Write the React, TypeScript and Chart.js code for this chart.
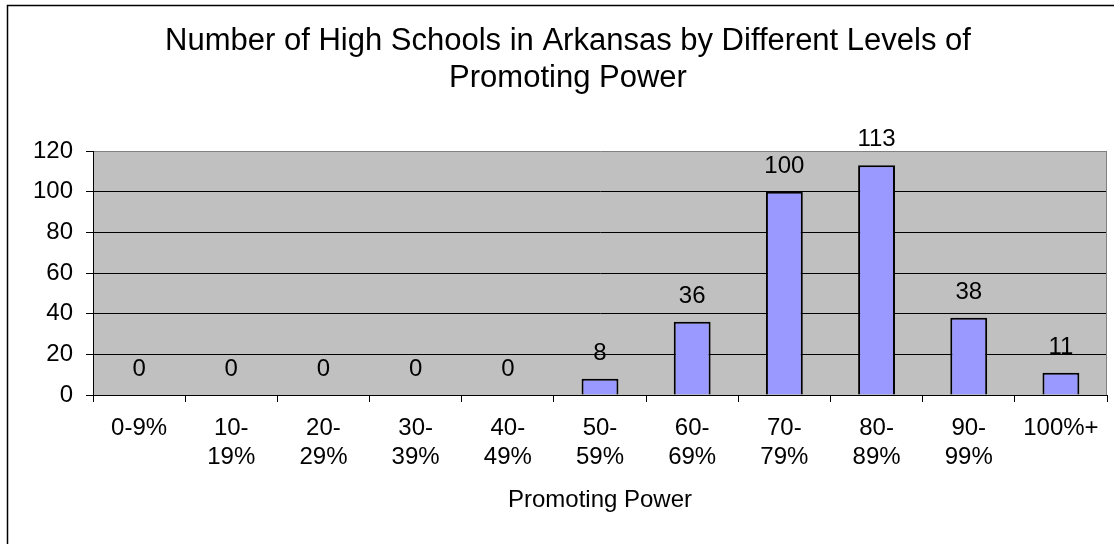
import React, { useEffect, useRef } from "react";
import { Chart, registerables } from "chart.js";

Chart.register(...registerables);

// ---- data ----
const categories: string[][] = [
  ["0-9%"],
  ["10-", "19%"],
  ["20-", "29%"],
  ["30-", "39%"],
  ["40-", "49%"],
  ["50-", "59%"],
  ["60-", "69%"],
  ["70-", "79%"],
  ["80-", "89%"],
  ["90-", "99%"],
  ["100%+"],
];
const schoolCounts: number[] = [0, 0, 0, 0, 0, 8, 36, 100, 113, 38, 11];
const titleLines: string[] = [
  "Number of High Schools in Arkansas by Different Levels of",
  "Promoting Power",
];
const xAxisTitle = "Promoting Power";
const yMin = 0;
const yMax = 120;
const yStep = 20;

const FAMILY = "'Liberation Sans', Arial, sans-serif";

const excelFrame = {
  id: "excelFrame",
  beforeDraw(chart: any) {
    const { ctx, chartArea: a, width, height } = chart;
    ctx.save();
    ctx.fillStyle = "#ffffff";
    ctx.fillRect(0, 0, width, height);
    ctx.strokeStyle = "#000000";
    ctx.lineWidth = 1.5;
    ctx.strokeRect(7.5, 5.5, width + 100, height + 100);
    ctx.fillStyle = "#C0C0C0";
    ctx.fillRect(a.left, a.top, a.right - a.left, a.bottom - a.top);
    ctx.restore();
  },
  afterDraw(chart: any) {
    const { ctx, chartArea: a } = chart;
    ctx.save();
    ctx.strokeStyle = "#808080";
    ctx.lineWidth = 1;
    ctx.beginPath();
    ctx.moveTo(Math.floor(a.right) - 0.5, a.top);
    ctx.lineTo(Math.floor(a.right) - 0.5, a.bottom);
    ctx.stroke();
    ctx.restore();
  },
};

const valueLabels = {
  id: "valueLabels",
  afterDatasetsDraw(chart: any) {
    const meta = chart.getDatasetMeta(0);
    const data = chart.data.datasets[0].data as number[];
    const ctx = chart.ctx;
    ctx.save();
    ctx.font = `24px ${FAMILY}`;
    ctx.fillStyle = "#000000";
    ctx.textAlign = "center";
    ctx.textBaseline = "alphabetic";
    meta.data.forEach((el: any, i: number) => {
      ctx.fillText(String(data[i]), el.x, el.y - 19);
    });
    ctx.restore();
  },
};

export default function App() {
  const canvasRef = useRef<HTMLCanvasElement | null>(null);

  useEffect(() => {
    if (!canvasRef.current) return;
    const chart = new Chart(canvasRef.current, {
      type: "bar",
      data: {
        labels: categories,
        datasets: [
          {
            data: schoolCounts,
            backgroundColor: "#9999FF",
            borderColor: "#000000",
            borderWidth: 2,
            barPercentage: 0.4,
            categoryPercentage: 1.0,
          },
        ],
      },
      options: {
        responsive: false,
        animation: false,
        events: [],
        layout: { padding: { left: 29, right: 7, top: 0, bottom: 0 } },
        plugins: {
          legend: { display: false },
          tooltip: { enabled: false },
          title: {
            display: true,
            text: titleLines,
            color: "#000000",
            font: { family: FAMILY, size: 31, weight: "normal", lineHeight: 37 / 31 },
            padding: { top: 23, bottom: 54 },
          },
        },
        scales: {
          x: {
            offset: true,
            grid: {
              offset: true,
              drawOnChartArea: false,
              drawTicks: true,
              tickLength: 7,
              color: "#000000",
              lineWidth: 1,
            },
            border: { display: true, color: "#000000", width: 1 },
            ticks: {
              autoSkip: false,
              maxRotation: 0,
              minRotation: 0,
              padding: 12,
              color: "#000000",
              font: { family: FAMILY, size: 24, lineHeight: 1.2 },
            },
            title: {
              display: true,
              text: xAxisTitle,
              color: "#000000",
              font: { family: FAMILY, size: 24, lineHeight: 1.2 },
              padding: { top: 0, bottom: 29 },
            },
            afterFit: (s: any) => {
              s.height = 149;
            },
          },
          y: {
            min: yMin,
            max: yMax,
            ticks: {
              stepSize: yStep,
              padding: 13,
              color: "#000000",
              font: { family: FAMILY, size: 24 },
            },
            grid: {
              color: (c: any) => (c.tick && c.tick.value === yMax ? "#808080" : "#000000"),
              tickColor: "#000000",
              drawTicks: true,
              tickLength: 7,
              lineWidth: 1,
            },
            border: { display: true, color: "#000000", width: 1 },
            afterFit: (s: any) => {
              s.width = 64;
            },
          },
        },
      },
      plugins: [excelFrame, valueLabels],
    });
    return () => chart.destroy();
  }, []);

  return (
    <div
      style={{
        position: "fixed",
        left: 0,
        top: 0,
        width: 1114,
        height: 544,
        overflow: "hidden",
        background: "#ffffff",
      }}
    >
      <canvas ref={canvasRef} width={1114} height={544} style={{ display: "block" }} />
    </div>
  );
}
